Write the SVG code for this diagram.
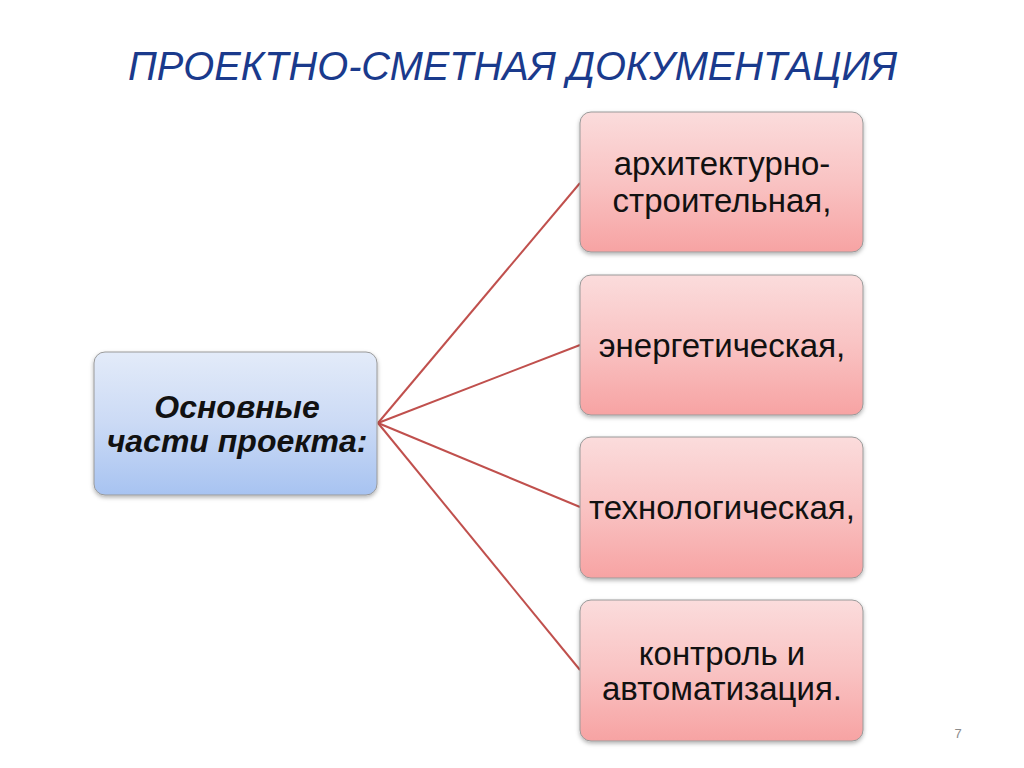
<svg xmlns="http://www.w3.org/2000/svg" width="1024" height="768" viewBox="0 0 1024 768">
<defs>
<linearGradient id="pink" x1="0" y1="0" x2="0" y2="1">
<stop offset="0" stop-color="#fbdcdc"/>
<stop offset="0.5" stop-color="#f9c3c3"/>
<stop offset="1" stop-color="#f7a3a3"/>
</linearGradient>
<linearGradient id="blue" x1="0" y1="0" x2="0" y2="1">
<stop offset="0" stop-color="#e3ebf9"/>
<stop offset="0.5" stop-color="#cbdaf5"/>
<stop offset="1" stop-color="#a7c3f1"/>
</linearGradient>
<filter id="sh" x="-10%" y="-10%" width="120%" height="130%">
<feDropShadow dx="0" dy="2" stdDeviation="2" flood-color="#000" flood-opacity="0.3"/>
</filter>
</defs>
<style>
.title{font-family:"Liberation Sans",Arial,sans-serif;font-style:italic;font-size:40px;fill:#1a3a8c}
.box{stroke:#9a9a9a;stroke-width:1;filter:url(#sh)}
.t{font-family:"Liberation Sans",Arial,sans-serif;font-size:33px;fill:#111;text-anchor:middle}
.lt{font-family:"Liberation Sans",Arial,sans-serif;font-size:32px;font-weight:bold;font-style:italic;fill:#111;text-anchor:middle}
.con{stroke:#c0504d;stroke-width:2;fill:none}
</style>
<rect width="1024" height="768" fill="#ffffff"/>
<text class="title" x="128" y="80" textLength="769" lengthAdjust="spacingAndGlyphs">ПРОЕКТНО-СМЕТНАЯ ДОКУМЕНТАЦИЯ</text>
<g id="connectors">
<line class="con" x1="378" y1="423" x2="580" y2="183"/>
<line class="con" x1="378" y1="423" x2="580" y2="345"/>
<line class="con" x1="378" y1="423" x2="580" y2="507"/>
<line class="con" x1="378" y1="423" x2="580" y2="670"/>
</g>
<g id="main">
<rect class="box" x="94" y="352" width="283" height="143" rx="11" fill="url(#blue)"/>
<text class="lt" x="237" y="418">Основные</text>
<text class="lt" x="237" y="452">части проекта:</text>
</g>
<g id="arch">
<rect class="box" x="580" y="112" width="283" height="140" rx="11" fill="url(#pink)"/>
<text class="t" x="722" y="175">архитектурно-</text>
<text class="t" x="722" y="212">строительная,</text>
</g>
<g id="energy">
<rect class="box" x="580" y="275" width="283" height="140" rx="11" fill="url(#pink)"/>
<text class="t" x="722" y="357">энергетическая,</text>
</g>
<g id="tech">
<rect class="box" x="580" y="437" width="283" height="141" rx="11" fill="url(#pink)"/>
<text class="t" x="722" y="519">технологическая,</text>
</g>
<g id="control">
<rect class="box" x="580" y="600" width="283" height="141" rx="11" fill="url(#pink)"/>
<text class="t" x="722" y="665">контроль и</text>
<text class="t" x="722" y="700">автоматизация.</text>
</g>
<text x="958" y="738" font-family="Liberation Sans,Arial,sans-serif" font-size="13" fill="#8c8c8c" text-anchor="middle">7</text>
</svg>
